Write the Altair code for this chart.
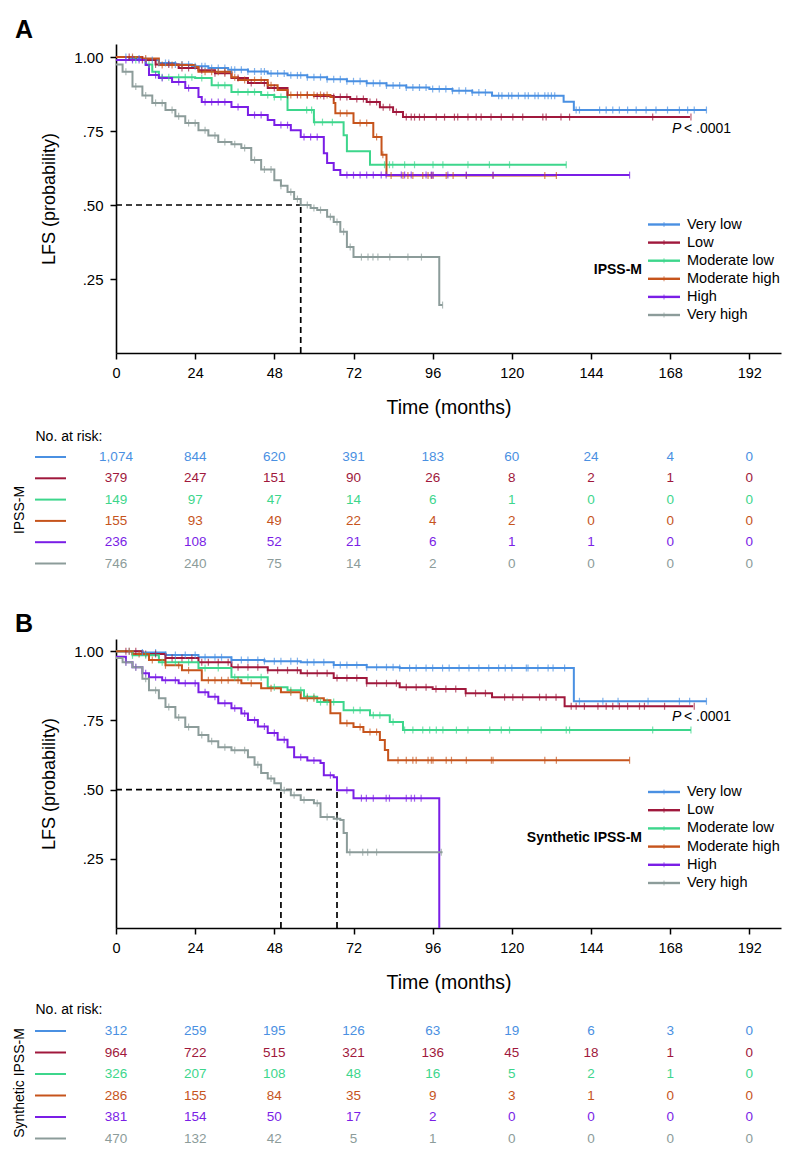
import altair as alt
import pandas as pd

FONT = "Liberation Sans"
GROUPS = ["Very low", "Low", "Moderate low", "Moderate high", "High", "Very high"]
COLORS = ["#4a90e2", "#a0183c", "#3dd68c", "#c6541c", "#7a1ee6", "#8c9c9a"]
MONTH_TICKS = [0, 24, 48, 72, 96, 120, 144, 168, 192]
Y_TICKS = [0.25, 0.5, 0.75, 1.0]

# ---------------- Panel A (IPSS-M) step curves ----------------
A_VL_T = [0, 4, 8, 13, 18, 23, 28, 34, 40, 46, 52, 58, 64, 70, 76, 82, 88, 95, 102, 108, 114, 135.7, 138.8, 179]
A_VL_S = [1.0, 0.995, 0.99, 0.98, 0.975, 0.969, 0.963, 0.957, 0.951, 0.944, 0.938, 0.932, 0.925, 0.918, 0.911, 0.904, 0.897, 0.892, 0.886, 0.88, 0.869, 0.849, 0.821, 0.821]
A_LO_T = [0, 6, 12, 19, 25, 30, 35, 40, 46, 52, 60, 66, 71, 76, 80, 84, 87, 174]
A_LO_S = [1.0, 0.99, 0.975, 0.963, 0.955, 0.945, 0.929, 0.912, 0.895, 0.872, 0.868, 0.865, 0.858, 0.848, 0.83, 0.814, 0.797, 0.797]
A_ML_T = [0, 5, 9, 11, 13, 24, 29, 35, 44, 48, 52, 60, 69, 70, 77, 136.5]
A_ML_S = [1.0, 0.99, 0.975, 0.95, 0.932, 0.929, 0.905, 0.882, 0.872, 0.865, 0.821, 0.78, 0.736, 0.682, 0.636, 0.636]
A_MH_T = [0, 8, 13, 24, 25, 35, 37, 46, 49, 52, 65, 66, 66.5, 72, 78, 80.5, 82, 133.5]
A_MH_S = [1.0, 0.995, 0.973, 0.966, 0.95, 0.932, 0.922, 0.905, 0.889, 0.872, 0.865, 0.845, 0.81, 0.777, 0.73, 0.67, 0.60, 0.60]
A_HI_T = [0, 9, 10, 13, 17, 21, 25, 26, 35, 40, 46, 48, 53, 56, 63, 64, 66, 68, 155.7]
A_HI_S = [0.99, 0.973, 0.939, 0.929, 0.916, 0.895, 0.865, 0.848, 0.831, 0.804, 0.787, 0.77, 0.753, 0.73, 0.675, 0.642, 0.618, 0.601, 0.601]
A_VH_T = [0, 2, 5, 8, 11, 15, 18, 21, 25, 28, 31, 35, 38, 41, 44, 48, 50, 52, 54, 56, 59, 61, 64, 66, 68, 70, 72, 98, 99]
A_VH_S = [0.975, 0.95, 0.9, 0.87, 0.845, 0.821, 0.8, 0.777, 0.753, 0.735, 0.713, 0.705, 0.693, 0.652, 0.62, 0.584, 0.565, 0.544, 0.52, 0.5, 0.49, 0.483, 0.46, 0.443, 0.41, 0.358, 0.324, 0.162, 0.162]

# censoring times (panel A)
A_VL_C = [3, 5, 7, 9, 11, 13, 15, 16, 18, 20, 22, 24, 26, 27, 29, 31, 33, 35, 36, 38, 40, 42, 44, 45, 47, 49, 51, 53, 55, 56, 58, 60, 62, 64, 66, 68, 70, 72, 74, 76, 78, 80, 82, 84, 86, 88, 90, 92, 94, 96, 98, 100, 102, 104, 106, 108, 110, 112, 116, 117, 119, 120, 122, 124, 125, 127, 128, 130, 131, 132, 133, 139.5, 140.5, 146.6, 148.6, 150.6, 152.6, 155.1, 157.7, 160.7, 163.7, 167.2, 170.8, 173.3, 175.3, 179]
A_LO_C = [4, 8, 12, 16, 20, 22, 26, 30, 33, 37, 41, 45, 48, 52, 55, 58, 61, 63, 66, 68, 70, 73, 75, 77, 79, 81, 83, 85, 88, 89.5, 90.5, 92, 93.5, 97.1, 99.6, 102.6, 103.6, 106.7, 109.2, 110.7, 113.7, 116.8, 120.3, 123.3, 129.4, 130.4, 134.9, 137.5, 162.7, 174.3]
A_ML_C = [6, 10, 14, 16, 19, 21, 23, 26, 31, 33, 37, 40, 42, 46, 48, 50, 57.8, 59.3, 60.2, 62.6, 65.6, 81.4, 82.9, 83.9, 87.5, 90.5, 96.1, 99.1, 106.7, 113.2, 119.3, 136.5]
A_MH_C = [5, 9, 14, 17, 20, 27, 29, 31, 33, 36, 39, 42, 44, 47, 53, 56, 58, 60, 62, 64, 68, 70, 74, 76, 79, 80.9, 83.4, 87, 88.5, 90, 93, 94.6, 95.6, 96.1, 100.1, 102.2, 106.2, 114.3, 130, 133.5]
A_HI_C = [3, 5, 7, 12, 14, 19, 22, 27, 29, 31, 33, 37, 42, 44, 50, 52, 57, 59, 61, 70, 72, 74, 76, 78, 80.4, 81.9, 86.5, 87.5, 89.5, 94, 95.6, 96.1, 100.6, 106.2, 114.3, 155.7]
A_VH_C = [3, 6, 9, 12, 14, 17, 19, 22, 24, 27, 30, 33, 36, 39, 42, 45, 47, 50, 53, 55, 58, 60, 62, 65, 67, 69, 71, 74.4, 76.4, 77.9, 79.4, 83, 88.5, 92.6, 99]

A_MEDIANS = [56]
A_MEDIAN_LEVEL = 0.5

A_RISK = {
    "Very low": ["1,074", "844", "620", "391", "183", "60", "24", "4", "0"],
    "Low": ["379", "247", "151", "90", "26", "8", "2", "1", "0"],
    "Moderate low": ["149", "97", "47", "14", "6", "1", "0", "0", "0"],
    "Moderate high": ["155", "93", "49", "22", "4", "2", "0", "0", "0"],
    "High": ["236", "108", "52", "21", "6", "1", "1", "0", "0"],
    "Very high": ["746", "240", "75", "14", "2", "0", "0", "0", "0"],
}

# ---------------- Panel B (Synthetic IPSS-M) step curves ----------------
B_VL_T = [0, 8, 15, 25, 35, 45, 56, 66, 76, 86, 138.8, 179]
B_VL_S = [1.0, 0.995, 0.986, 0.978, 0.968, 0.964, 0.96, 0.95, 0.942, 0.939, 0.819, 0.819]
B_LO_T = [0, 8, 15, 25, 35, 46, 56, 66, 76, 86, 96, 106, 114, 136, 175]
B_LO_S = [1.0, 0.99, 0.975, 0.96, 0.942, 0.931, 0.92, 0.903, 0.884, 0.87, 0.863, 0.848, 0.834, 0.801, 0.801]
B_ML_T = [0, 5, 13, 25, 35, 46, 52, 57, 61, 69, 77, 83, 87, 174.3]
B_ML_S = [1.0, 0.985, 0.96, 0.939, 0.906, 0.87, 0.859, 0.835, 0.816, 0.787, 0.769, 0.744, 0.715, 0.715]
B_MH_T = [0, 5, 10, 15, 20, 26, 38, 44, 50, 56, 63, 65, 68, 72, 75, 80, 81.5, 82.5, 155.7]
B_MH_S = [1.0, 0.99, 0.968, 0.949, 0.931, 0.895, 0.884, 0.866, 0.852, 0.83, 0.823, 0.776, 0.74, 0.726, 0.708, 0.679, 0.643, 0.606, 0.606]
B_HI_T = [0, 3, 5, 8, 10, 14, 19, 25, 28, 31, 35, 38, 40, 43, 46, 49, 52, 54, 58, 62, 63, 66, 67, 72, 98]
B_HI_S = [0.98, 0.96, 0.942, 0.92, 0.906, 0.895, 0.884, 0.852, 0.835, 0.812, 0.794, 0.775, 0.751, 0.728, 0.704, 0.68, 0.653, 0.617, 0.605, 0.596, 0.552, 0.545, 0.498, 0.469, 0.0]
B_VH_T = [0, 2, 5, 8, 10, 13, 15, 18, 21, 25, 28, 31, 35, 40, 42, 44, 46, 48, 50, 53, 56, 60, 62, 66, 68, 69, 70, 99]
B_VH_S = [0.975, 0.96, 0.942, 0.9, 0.859, 0.83, 0.798, 0.76, 0.726, 0.697, 0.675, 0.653, 0.642, 0.617, 0.59, 0.56, 0.54, 0.523, 0.498, 0.48, 0.462, 0.451, 0.401, 0.395, 0.39, 0.343, 0.274, 0.274]

B_VL_C = [4, 8, 12, 15, 18, 21, 24, 27, 30, 32, 35, 38, 40, 43, 45, 48, 50, 53, 55, 58, 60, 63, 66, 68, 70, 73, 76, 79, 82, 84, 86, 89, 91, 94, 96, 99, 101, 104, 107, 110, 113, 116, 118, 120, 124.4, 124.9, 127.9, 131, 132.5, 136, 140.5, 147.6, 152.2, 161.3, 170.8, 173.9, 179]
B_LO_C = [3, 6, 9, 12, 15, 17, 20, 23, 26, 28, 31, 34, 37, 40, 43, 46, 49, 52, 55, 58, 61, 64, 67, 70, 73, 76, 79, 82, 85, 88, 91, 94, 97, 100, 103, 106, 109, 112, 117.8, 120.3, 123.3, 128.4, 130.4, 133.4, 138, 139.5, 142, 146.1, 148.6, 150.6, 152.6, 155.1, 158.7, 160.2, 166.3, 175.3]
B_ML_C = [5, 9, 14, 18, 22, 27, 31, 36, 40, 44, 48, 53, 56, 58, 60, 62, 64, 66, 72, 74, 78, 80, 84, 87.5, 90, 93, 95.1, 97.1, 99.1, 103.2, 106.7, 113.3, 116.8, 119.3, 128.9, 136.5, 137.5, 162.7, 174.3]
B_MH_C = [4, 7, 11, 15, 19, 22, 28, 30, 32, 34, 37, 41, 47, 53, 58, 60, 70, 74, 77, 79, 85.5, 88, 90, 91, 94.6, 95.6, 96.1, 100.1, 101.7, 106.2, 113.8, 114.3, 130, 133.5, 155.7]
B_HI_C = [3, 6, 9, 12, 15, 18, 21, 24, 27, 30, 33, 36, 39, 42, 45, 48, 51, 56, 60, 65, 70, 74.4, 75.9, 78, 81.9, 82.9, 88, 89.5, 90.5, 92.5]
B_VH_C = [3, 6, 9, 12, 16, 19, 22, 26, 29, 33, 36, 39, 43, 47, 51, 54, 57, 61, 64, 67, 70.9, 74.8, 76.3, 79, 98.6]

B_MEDIANS = [50, 67]
B_MEDIAN_LEVEL = 0.5

B_RISK = {
    "Very low": ["312", "259", "195", "126", "63", "19", "6", "3", "0"],
    "Low": ["964", "722", "515", "321", "136", "45", "18", "1", "0"],
    "Moderate low": ["326", "207", "108", "48", "16", "5", "2", "1", "0"],
    "Moderate high": ["286", "155", "84", "35", "9", "3", "1", "0", "0"],
    "High": ["381", "154", "50", "17", "2", "0", "0", "0", "0"],
    "Very high": ["470", "132", "42", "5", "1", "0", "0", "0", "0"],
}

A_CURVES = [(A_VL_T, A_VL_S, A_VL_C), (A_LO_T, A_LO_S, A_LO_C), (A_ML_T, A_ML_S, A_ML_C),
            (A_MH_T, A_MH_S, A_MH_C), (A_HI_T, A_HI_S, A_HI_C), (A_VH_T, A_VH_S, A_VH_C)]
B_CURVES = [(B_VL_T, B_VL_S, B_VL_C), (B_LO_T, B_LO_S, B_LO_C), (B_ML_T, B_ML_S, B_ML_C),
            (B_MH_T, B_MH_S, B_MH_C), (B_HI_T, B_HI_S, B_HI_C), (B_VH_T, B_VH_S, B_VH_C)]

X_MAX = 201.6
Y_MAX = 1.044
PLOT_W = 665

color_scale = alt.Scale(domain=GROUPS, range=COLORS)


def surv_at(t, times, surv):
    s = surv[0]
    for ti, si in zip(times, surv):
        if ti <= t:
            s = si
        else:
            break
    return s


def make_panel(curves, medians, level, risk, letter, legend_title, height, lay):
    xscale = alt.Scale(domain=[0, X_MAX], nice=False, zero=False)
    yscale = alt.Scale(domain=[0, Y_MAX], nice=False, zero=False)
    xaxis = alt.Axis(values=MONTH_TICKS, title="Time (months)", labelFontSize=14.5,
                     titleFontSize=19.5, titleFontWeight="normal", labelPadding=7,
                     titlePadding=19, grid=False, labelFlush=False)
    yaxis = alt.Axis(values=Y_TICKS, title="LFS (probability)", labelFontSize=15,
                     titleFontSize=18, titleFontWeight="normal", labelPadding=7,
                     titlePadding=15, grid=False,
                     labelExpr="datum.value == 1 ? '1.00' : slice(format(datum.value, '.2f'), 1)")
    x_enc = alt.X("t:Q", scale=xscale, axis=xaxis)
    y_enc = alt.Y("s:Q", scale=yscale, axis=yaxis)

    line_rows, cens_rows = [], []
    for g, (ts, ss, cs) in zip(GROUPS, curves):
        for t, s in zip(ts, ss):
            line_rows.append({"grp": g, "t": t, "s": s})
        for c in cs:
            cens_rows.append({"grp": g, "t": c, "s": surv_at(c, ts, ss)})
    lines_df = pd.DataFrame(line_rows)
    cens_df = pd.DataFrame(cens_rows)

    lines = alt.Chart(lines_df).mark_line(interpolate="step-after", strokeWidth=2).encode(
        x=x_enc, y=y_enc,
        color=alt.Color("grp:N", scale=color_scale, legend=None),
        detail="grp:N")
    cens = alt.Chart(cens_df).mark_tick(orient="vertical", size=7, thickness=1.2).encode(
        x=x_enc, y=y_enc,
        color=alt.Color("grp:N", scale=color_scale, legend=None))

    rule_rows = [{"t": 0, "t2": max(medians), "s": level, "s2": level}]
    for m in medians:
        rule_rows.append({"t": m, "t2": m, "s": 0, "s2": level})
    dashed = alt.Chart(pd.DataFrame(rule_rows)).mark_rule(
        strokeDash=[6, 4], color="black", strokeWidth=1.7).encode(
        x=x_enc, x2="t2:Q", y=y_enc, y2="s2:Q")

    # custom legend
    leg_df = pd.DataFrame({"grp": GROUPS,
                           "ly": [lay["leg_y0"] + lay["leg_dy"] * i for i in range(6)]})
    leg_lines = alt.Chart(leg_df).mark_rule(strokeWidth=2.4).encode(
        x=alt.value(532), x2=alt.value(564), y=alt.Y("ly:Q", scale=None),
        color=alt.Color("grp:N", scale=color_scale, legend=None))
    leg_ticks = alt.Chart(leg_df).mark_tick(orient="vertical", size=5, thickness=1).encode(
        x=alt.value(548), y=alt.Y("ly:Q", scale=None),
        color=alt.Color("grp:N", scale=color_scale, legend=None))
    leg_text = alt.Chart(leg_df).mark_text(align="left", baseline="middle", font=FONT,
                                           fontSize=14.5, color="black").encode(
        x=alt.value(571), y=alt.Y("ly:Q", scale=None), text="grp:N")
    leg_title = alt.Chart(pd.DataFrame({"lab": [legend_title]})).mark_text(
        align="right", baseline="middle", font=FONT, fontSize=14, fontWeight="bold",
        color="black").encode(x=alt.value(526), y=alt.value(lay["leg_title_y"]), text="lab:N")

    p_it = alt.Chart(pd.DataFrame({"lab": ["P"]})).mark_text(
        align="left", baseline="middle", font=FONT, fontSize=14, fontStyle="italic",
        color="black").encode(x=alt.value(556), y=alt.value(lay["p_y"]), text="lab:N")
    p_rest = alt.Chart(pd.DataFrame({"lab": ["< .0001"]})).mark_text(
        align="left", baseline="middle", font=FONT, fontSize=14, color="black").encode(
        x=alt.value(568), y=alt.value(lay["p_y"]), text="lab:N")

    letter_mark = alt.Chart(pd.DataFrame({"lab": [letter]})).mark_text(
        align="left", baseline="alphabetic", font=FONT, fontSize=25, fontWeight="bold",
        color="black").encode(x=alt.value(-101), y=alt.value(lay["letter_y"]), text="lab:N")

    # risk table
    risk_rows = []
    for i, g in enumerate(GROUPS):
        for t, n in zip(MONTH_TICKS, risk[g]):
            risk_rows.append({"grp": g, "t": t, "n": n,
                              "ry": lay["row_y0"] + lay["row_dy"] * i})
    risk_df = pd.DataFrame(risk_rows)
    risk_text = alt.Chart(risk_df).mark_text(
        align="center", baseline="middle", font=FONT, fontSize=13.5).encode(
        x=x_enc, y=alt.Y("ry:Q", scale=None), text="n:N",
        color=alt.Color("grp:N", scale=color_scale, legend=None))
    row_df = pd.DataFrame({"grp": GROUPS,
                           "ry": [lay["row_y0"] + lay["row_dy"] * i for i in range(6)]})
    risk_lines = alt.Chart(row_df).mark_rule(strokeWidth=2).encode(
        x=alt.value(-81), x2=alt.value(-50), y=alt.Y("ry:Q", scale=None),
        color=alt.Color("grp:N", scale=color_scale, legend=None))
    nar = alt.Chart(pd.DataFrame({"lab": ["No. at risk:"]})).mark_text(
        align="left", baseline="middle", font=FONT, fontSize=14, color="black").encode(
        x=alt.value(-80.5), y=alt.value(lay["nar_y"]), text="lab:N")
    side = alt.Chart(pd.DataFrame({"lab": [legend_title]})).mark_text(
        align="center", baseline="middle", font=FONT, fontSize=14, angle=270,
        color="black").encode(x=alt.value(-96), y=alt.value(lay["side_y"]), text="lab:N")

    return alt.layer(
        dashed, lines, cens, leg_lines, leg_ticks, leg_text, leg_title, p_it, p_rest,
        letter_mark, risk_text, risk_lines, nar, side
    ).properties(width=PLOT_W, height=height)


LAY_A = {"leg_y0": 180.5, "leg_dy": 18.1, "leg_title_y": 226, "p_y": 85, "letter_y": -6,
         "row_y0": 413, "row_dy": 21.3, "nar_y": 393, "side_y": 466}
LAY_B = {"leg_y0": 153, "leg_dy": 18.2, "leg_title_y": 199, "p_y": 78, "letter_y": -7,
         "row_y0": 392, "row_dy": 21.5, "nar_y": 371, "side_y": 444}

panel_a = make_panel(A_CURVES, A_MEDIANS, A_MEDIAN_LEVEL, A_RISK, "A", "IPSS-M", 309, LAY_A)
panel_b = make_panel(B_CURVES, B_MEDIANS, B_MEDIAN_LEVEL, B_RISK, "B", "Synthetic IPSS-M", 289, LAY_B)

chart = alt.vconcat(panel_a, panel_b, spacing=286, bounds="flush").properties(
    padding={"left": 5, "top": 10, "right": 5, "bottom": 5}
).configure_view(stroke=None).configure_axis(
    domainColor="black", domainWidth=1.6, tickColor="black", tickWidth=1.5, tickSize=6,
    labelColor="black", titleColor="black", labelFont=FONT, titleFont=FONT
)

chart.save("out.html", embed_options={"renderer": "svg", "actions": False})
